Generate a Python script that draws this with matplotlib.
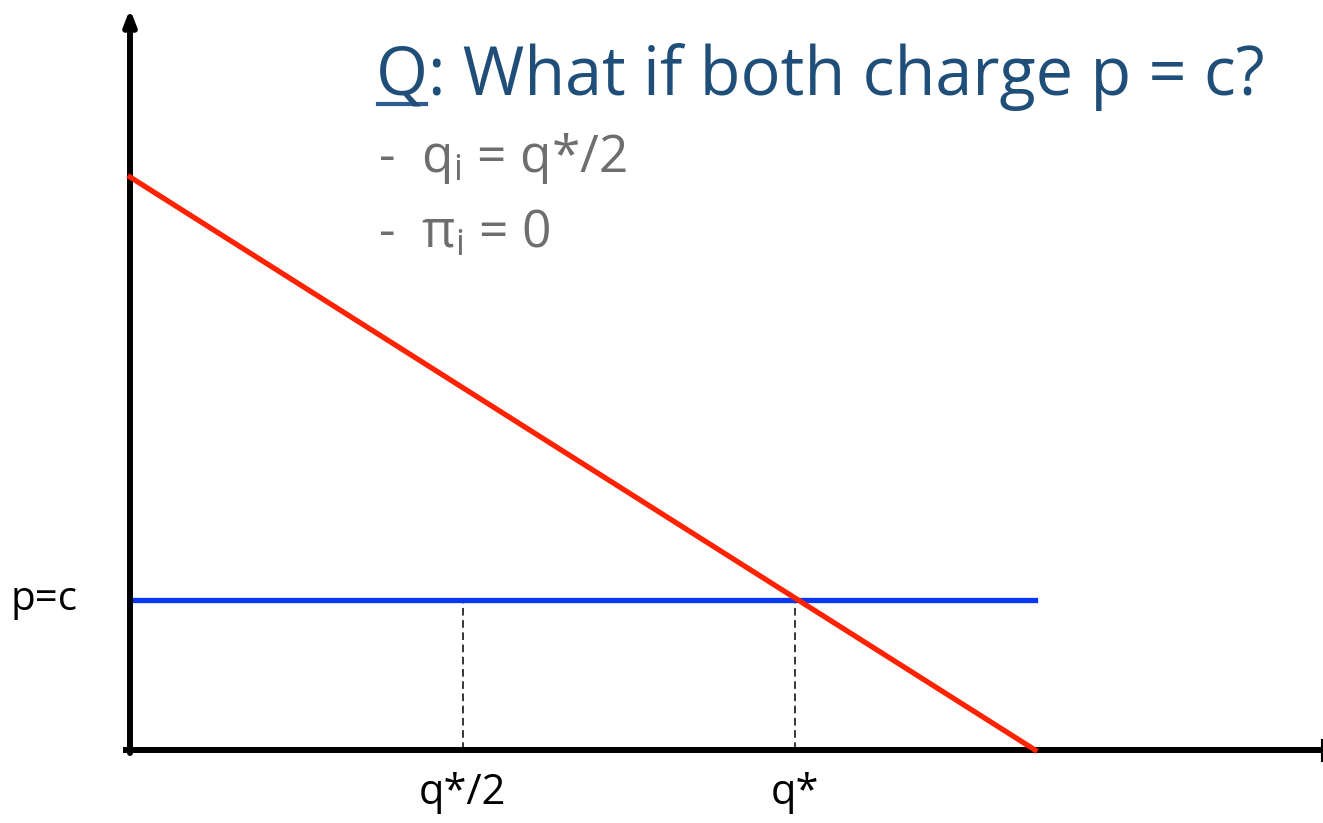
import matplotlib.pyplot as plt

# economic units: q* = 1, c = 1
q_star = 1.0
q_half = q_star / 2
q_choke = 1.361          # demand hits zero
p_intercept = 3.82       # demand at q = 0
c = 1.0

x_labels = ["q*/2", "q*"]
x_label_pos = [q_half, q_star]

title_blue = "#1F4E79"
bullet_grey = "#6E6E6E"

plt.rcParams['font.family'] = ['Open Sans', 'DejaVu Sans']
plt.rcParams['mathtext.fontset'] = 'custom'
plt.rcParams['mathtext.rm'] = 'Open Sans'

fig = plt.figure(figsize=(13.23, 8.23), dpi=100)
ax = fig.add_axes([0, 0, 1, 1])
ax.set_xlim(-130 / 665, (1323 - 130) / 665)
ax.set_ylim(-(823 - 750) / 150, 750 / 150)
ax.axis('off')

# axes with arrow
x0, x1 = ax.get_xlim()
y0, y1 = ax.get_ylim()
ax.annotate("", xy=(0, y1 - 0.06), xytext=(0, -0.02),
            arrowprops=dict(arrowstyle="-|>,head_length=0.9,head_width=0.35",
                            lw=4.3, color="black", shrinkA=0, shrinkB=0))
ax.plot([-0.01, x1], [0, 0], color="black", lw=4.3, solid_capstyle="butt")
ax.plot([x1 - 0.002, x1 - 0.002], [-0.07, 0.07], color="black", lw=1.5)

# demand and price
ax.plot([0, q_choke], [p_intercept, 0], color="#FF2200", lw=3.8, zorder=3)
ax.plot([0, q_choke], [c, c], color="#0A36F5", lw=3.8, zorder=2)

# dashed guides
for q in x_label_pos:
    ax.plot([q, q], [0, c], color="black", lw=1.1, ls=(0, (5, 3)), zorder=1)

for lab, q in zip(x_labels, x_label_pos):
    ax.text(q, -0.15, lab, ha="center", va="top", fontsize=30, color="black")
ax.text(-0.13, c, "p=c", ha="center", va="center", fontsize=29, color="black")

# title with underlined Q
fig.canvas.draw()
t_q = fig.text(376 / 1323, 1 - 95 / 823, "Q", fontsize=48, color=title_blue,
               ha="left", va="baseline")
t_rest = ax.annotate(": What if both charge p = c?", xy=(1, 0), xycoords=t_q,
                     fontsize=48, color=title_blue, ha="left", va="bottom")
fig.canvas.draw()
bb = t_q.get_window_extent()
inv = fig.transFigure.inverted()
(ux0, uy), (ux1, _) = inv.transform([[bb.x0 + 2, 823 - 104], [bb.x1 - 2, 0]])
fig.add_artist(plt.Line2D([ux0, ux1], [uy, uy], color="#2E5C94", lw=3))

fig.text(378 / 1323, 1 - 172 / 823, r"-  q$_\mathregular{i}$ = q*/2", fontsize=37,
         color=bullet_grey, ha="left", va="baseline")
fig.text(378 / 1323, 1 - 248 / 823, r"-  π$_\mathregular{i}$ = 0", fontsize=37,
         color=bullet_grey, ha="left", va="baseline")

fig.savefig("out.png", dpi=100)
